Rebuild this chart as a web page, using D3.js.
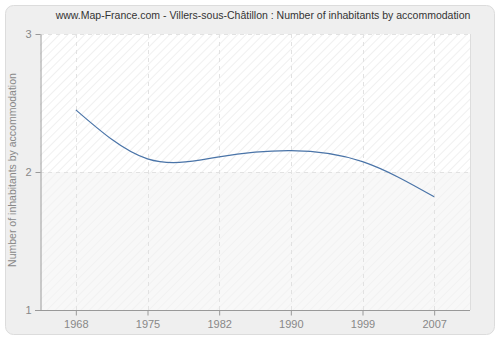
<!DOCTYPE html>
<html>
<head>
<meta charset="utf-8">
<script src="https://cdn.jsdelivr.net/npm/d3@7"></script>
<style>
body{margin:0;background:#fff;}
text{font-family:"Liberation Sans",Arial,sans-serif;}
</style>
</head>
<body>
<script>
var years = ["1968","1975","1982","1990","1999","2007"];
var values = [2.45, 2.095, 2.11, 2.155, 2.075, 1.82];
var yTicks = [1, 2, 3];

var w = 500, h = 340;
var padL = 40, padR = 470, padT = 34, padB = 310;

var svg = d3.select("body").append("svg")
  .attr("width", w).attr("height", h);

var defs = svg.append("defs");
var p1 = defs.append("pattern").attr("id","hatch1").attr("patternUnits","userSpaceOnUse")
  .attr("width",6).attr("height",6).attr("patternTransform","rotate(45)");
p1.append("rect").attr("width",6).attr("height",6).attr("fill","#ffffff");
p1.append("line").attr("x1",0).attr("y1",0).attr("x2",0).attr("y2",6)
  .attr("stroke","#ececec").attr("stroke-width",1.5);
var p2 = defs.append("pattern").attr("id","hatch2").attr("patternUnits","userSpaceOnUse")
  .attr("width",6).attr("height",6).attr("patternTransform","rotate(45)");
p2.append("rect").attr("width",6).attr("height",6).attr("fill","#f8f8f8");
p2.append("line").attr("x1",0).attr("y1",0).attr("x2",0).attr("y2",6)
  .attr("stroke","#f1f1f1").attr("stroke-width",1.5);

svg.append("rect")
  .attr("x",5.5).attr("y",5.5).attr("width",489).attr("height",329)
  .attr("rx",8).attr("fill","#efefef").attr("stroke","#dcdcdc");

var x = d3.scalePoint().domain(years).range([padL, padR]).padding(0.5);
var y = d3.scaleLinear().domain([1, 3]).range([padB, padT]);

// bands
svg.append("rect").attr("x",padL).attr("y",y(3)).attr("width",padR-padL)
  .attr("height",y(2)-y(3)).attr("fill","url(#hatch1)");
svg.append("rect").attr("x",padL).attr("y",y(2)).attr("width",padR-padL)
  .attr("height",y(1)-y(2)).attr("fill","url(#hatch2)");
svg.append("line").attr("x1",padR+0.5).attr("x2",padR+0.5).attr("y1",padT).attr("y2",padB)
  .attr("stroke","#dddddd");

// grid
svg.append("g").selectAll("line").data(years).enter().append("line")
  .attr("x1",d=>Math.round(x(d))+0.5).attr("x2",d=>Math.round(x(d))+0.5)
  .attr("y1",padT).attr("y2",padB)
  .attr("stroke","#e2e2e2").attr("stroke-dasharray","4,4");
svg.append("g").selectAll("line").data([2,3]).enter().append("line")
  .attr("x1",padL).attr("x2",padR)
  .attr("y1",d=>Math.round(y(d))+0.5).attr("y2",d=>Math.round(y(d))+0.5)
  .attr("stroke","#e2e2e2").attr("stroke-dasharray","4,4");

// line
var line = d3.line()
  .x((d,i)=>x(years[i]))
  .y(d=>y(d))
  .curve(d3.curveNatural);
svg.append("path").datum(values)
  .attr("d",line).attr("fill","none")
  .attr("stroke","#4a74a8").attr("stroke-width",1.2);

// axes
var xAxis = svg.append("g")
  .attr("transform","translate(0,"+(padB+0.5)+")")
  .call(d3.axisBottom(x).tickSize(5).tickPadding(5).tickSizeOuter(0));
var yAxis = svg.append("g")
  .attr("transform","translate("+(padL+0.5)+",0)")
  .call(d3.axisLeft(y).tickValues(yTicks).tickFormat(d3.format("d")).tickSize(5).tickPadding(4).tickSizeOuter(0));
[xAxis,yAxis].forEach(function(a){
  a.select(".domain").attr("stroke","#999");
  a.selectAll(".tick line").attr("stroke","#999");
  a.selectAll(".tick text").attr("fill","#888").style("font-size","11px");
});
xAxis.select(".domain").attr("d","M"+(padL-5)+",0H"+padR);

svg.append("text")
  .attr("x",263).attr("y",19)
  .attr("text-anchor","middle")
  .attr("fill","#333").style("font-size","10.5px")
  .text("www.Map-France.com - Villers-sous-Châtillon : Number of inhabitants by accommodation");

svg.append("text")
  .attr("transform","translate(16,"+((padT+padB)/2 - 2)+") rotate(-90)")
  .attr("text-anchor","middle")
  .attr("fill","#888").style("font-size","10.5px")
  .text("Number of inhabitants by accommodation");
</script>
</body>
</html>
